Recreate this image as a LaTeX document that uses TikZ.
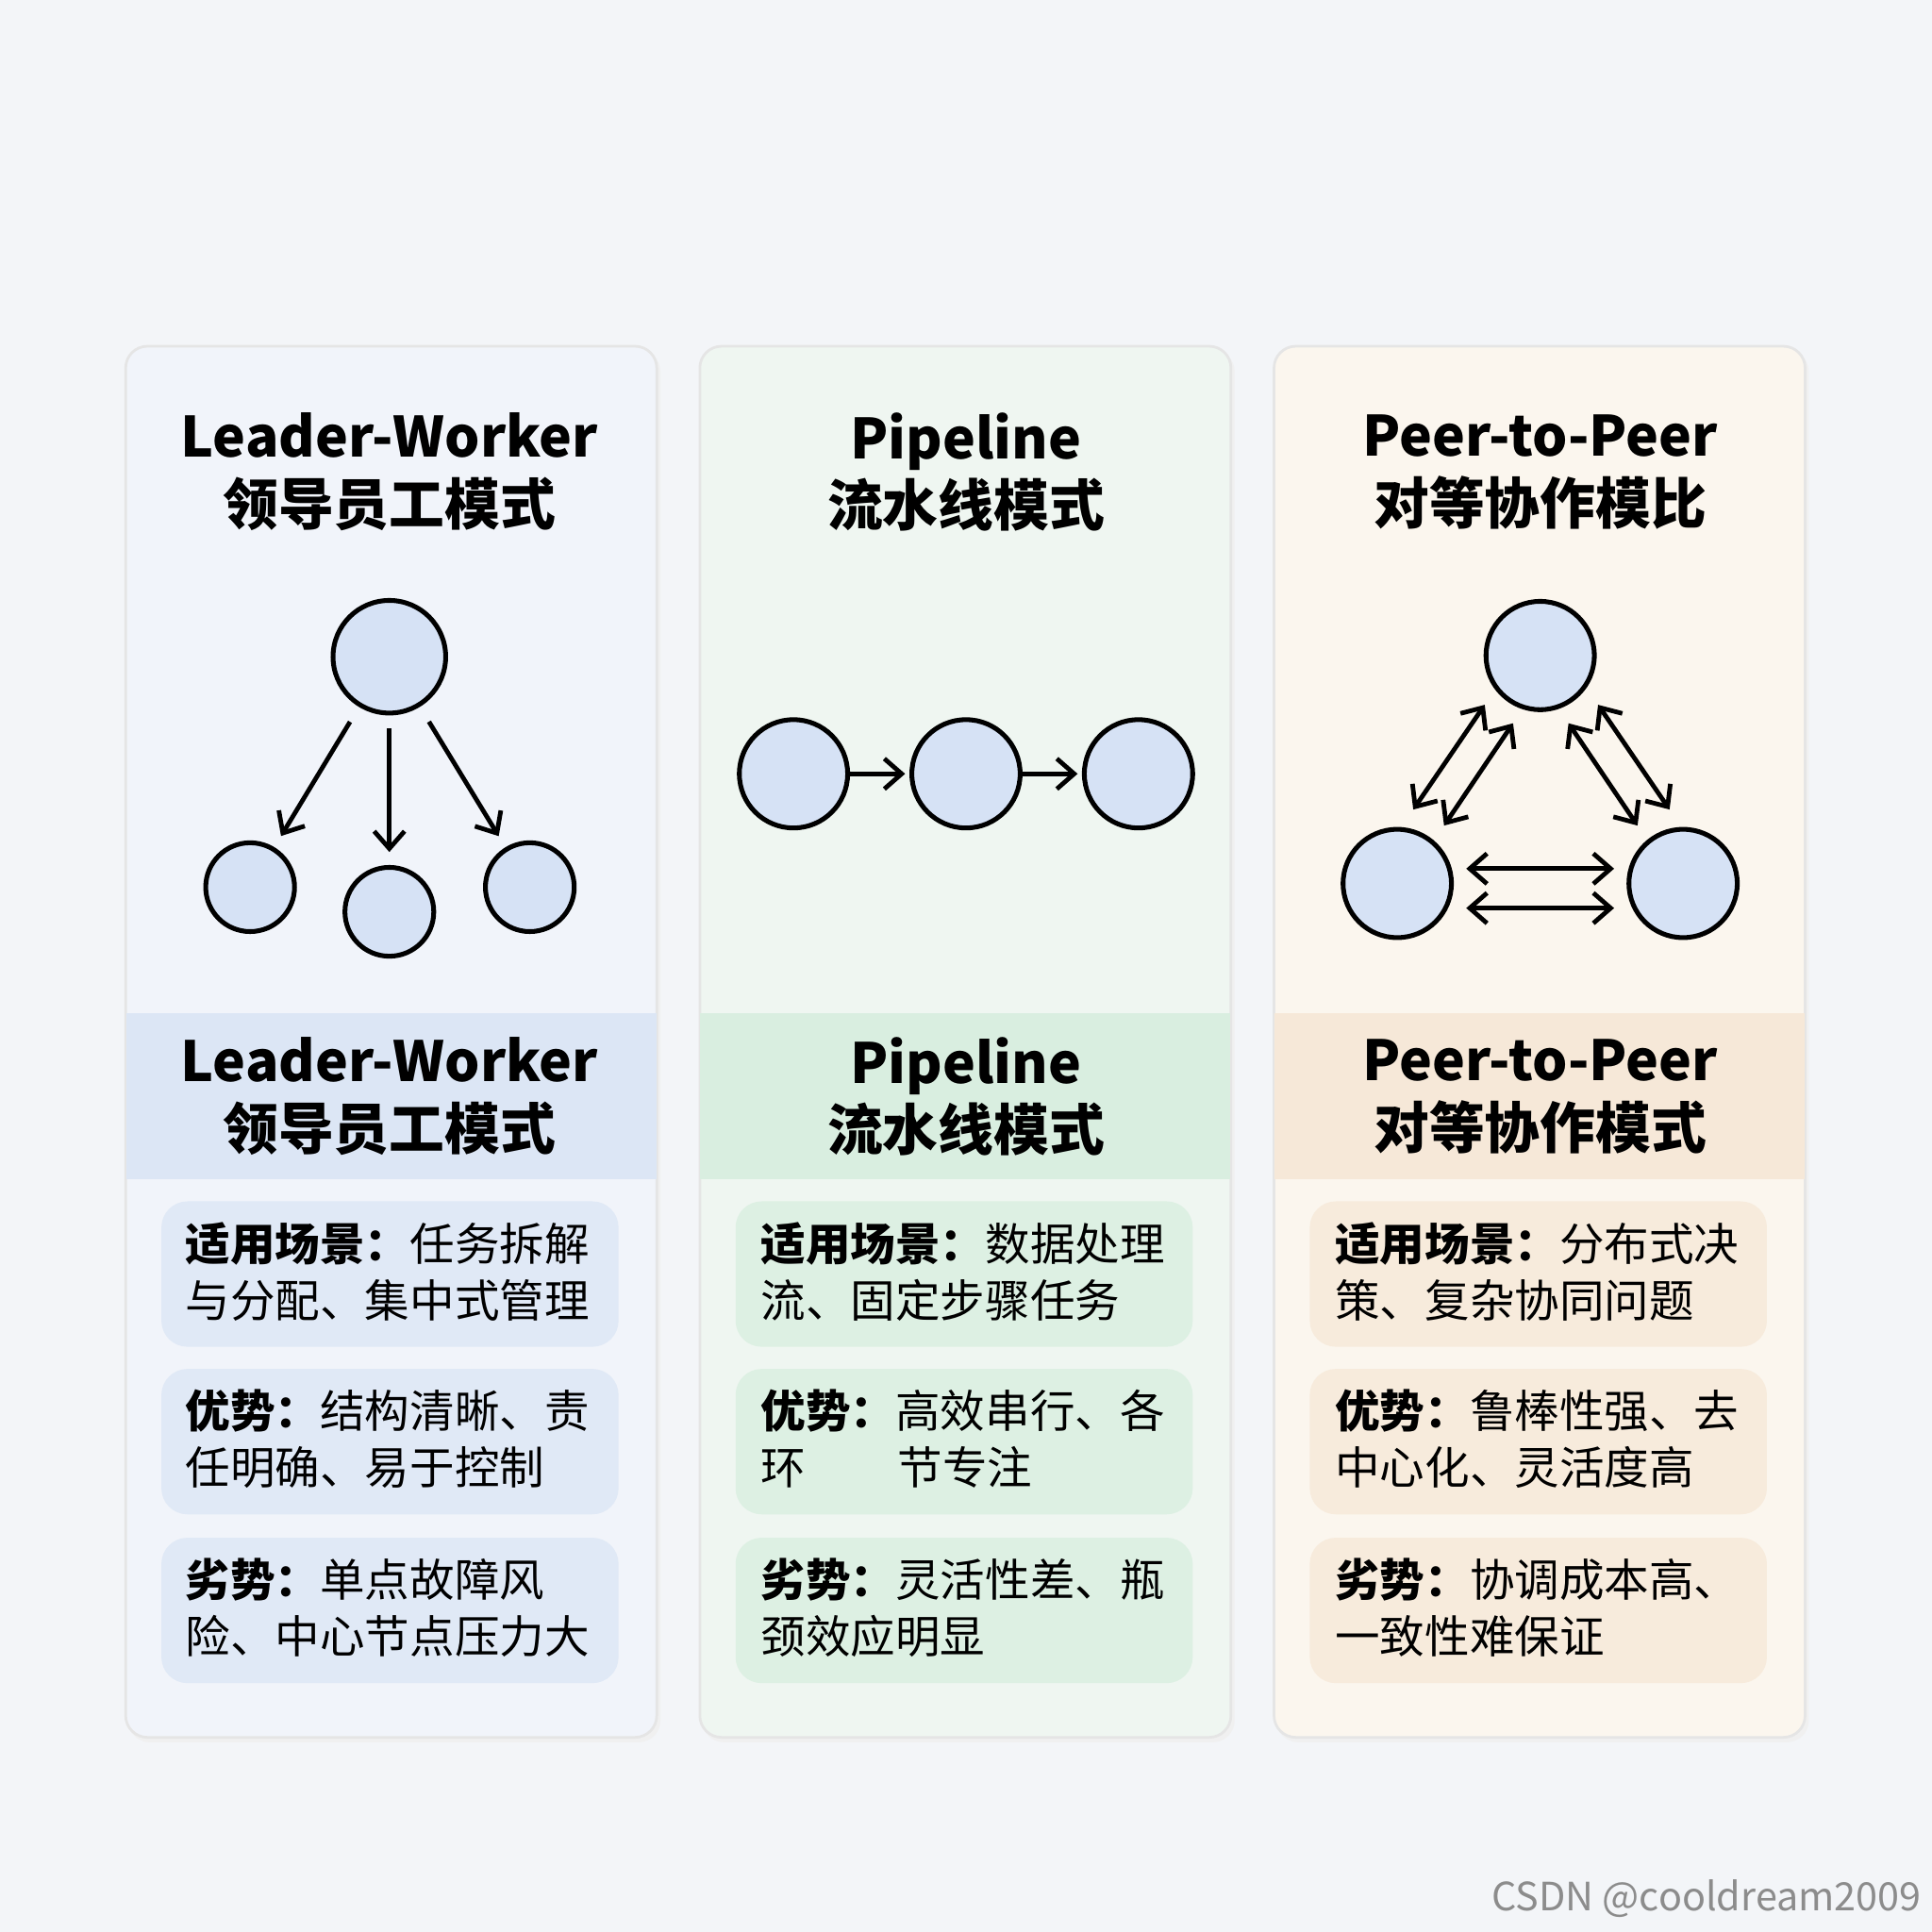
\documentclass[tikz,border=0pt]{standalone}
\usepackage{fontspec}
\setmainfont{Noto Sans CJK SC}
\usetikzlibrary{arrows.meta}
\definecolor{bg}{HTML}{F3F5F8}
\definecolor{pA}{HTML}{F1F4FA}\definecolor{hA}{HTML}{DCE6F5}
\definecolor{pB}{HTML}{EFF6F1}\definecolor{hB}{HTML}{D9EEE0}
\definecolor{pC}{HTML}{FBF6EE}\definecolor{hC}{HTML}{F6E8D8}
\definecolor{nd}{HTML}{D6E2F5}
\begin{document}
\begin{tikzpicture}[x=0.01cm,y=-0.01cm,
 panel/.style={draw=black!10,line width=0.6pt,rounded corners=5pt},
 ttl/.style={align=center,font=\bfseries\fontsize{12.8}{15.6}\selectfont,inner sep=0},
 body/.style={align=left,anchor=north west,font=\fontsize{10.35}{13.1}\selectfont,inner sep=0},
 nd/.style={circle,draw=black,fill=nd,line width=1.1pt,inner sep=0},
 ar/.style={line width=1.05pt,-{Straight Barb[length=4pt,width=7pt]}},
 dar/.style={line width=1.05pt,{Straight Barb[length=4pt,width=7pt]}-{Straight Barb[length=4pt,width=7pt]}}]
\fill[bg] (0,0) rectangle (1568,1568);
\useasboundingbox (0,0) rectangle (1568,1568);
% panels
\foreach \x/\p/\h in {102/pA/hA,568/pB/hB,1034/pC/hC}{
 \fill[black!6,rounded corners=5pt] (\x+2,284) rectangle (\x+434,1414);
 \filldraw[panel,fill=\p] (\x,281) rectangle (\x+431,1410);
 \fill[\h] (\x+0.3,822) rectangle (\x+430.7,957);
 \foreach \y in {975,1111,1248}{\fill[\h!80!\p,rounded corners=6pt] (\x+29,\y) rectangle (\x+400,\y+118);}
}
% titles
\node[ttl] (t1) at (316,383) {Leader-Worker\\领导员工模式};
\node[ttl] (t2) at (784,383) {Pipeline\\流水线模式};
\node[ttl] (t3) at (1250,383) {Peer-to-Peer\\对等协作模比};
\node[ttl] (h1) at (316,890) {Leader-Worker\\领导员工模式};
\node[ttl] (h2) at (784,890) {Pipeline\\流水线模式};
\node[ttl] (h3) at (1250,890) {Peer-to-Peer\\对等协作模式};
% body
\node[body] (a1) at (150,991) {\textbf{适用场景：}任务拆解\\与分配、集中式管理};
\node[body] (a2) at (150,1127) {\textbf{优势：}结构清晰、责\\任明确、易于控制};
\node[body] (a3) at (150,1264) {\textbf{劣势：}单点故障风\\险、中心节点压力大};
\node[body] (b1) at (617,991) {\textbf{适用场景：}数据处理\\流、固定步骤任务};
\node[body] (b2) at (617,1127) {\textbf{优势：}高效串行、各\\环\hspace{2.05em}节专注};
\node[body] (b3) at (617,1264) {\textbf{劣势：}灵活性差、瓶\\颈效应明显};
\node[body] (c1) at (1083,991) {\textbf{适用场景：}分布式决\\策、复杂协同问题};
\node[body] (c2) at (1083,1127) {\textbf{优势：}鲁棒性强、去\\中心化、灵活度高};
\node[body] (c3) at (1083,1264) {\textbf{劣势：}协调成本高、\\一致性难保证};
% leader-worker
\node[nd,minimum size=26pt] (L) at (316,533) {};
\node[nd,minimum size=20.5pt] (w1) at (203,720) {};
\node[nd,minimum size=20.5pt] (w2) at (316,740) {};
\node[nd,minimum size=20.5pt] (w3) at (430,720) {};
\draw[ar,shorten <=4pt,shorten >=3pt] (L) -- (w1);
\draw[ar,shorten <=3pt,shorten >=3pt] (L) -- (w2);
\draw[ar,shorten <=4pt,shorten >=3pt] (L) -- (w3);
% pipeline
\node[nd,minimum size=25pt] (p1) at (644,628) {};
\node[nd,minimum size=25pt] (p2) at (784,628) {};
\node[nd,minimum size=25pt] (p3) at (924,628) {};
\draw[ar,shorten >=1pt] (p1) -- (p2);
\draw[ar,shorten >=1pt] (p2) -- (p3);
% p2p
\node[nd,minimum size=25pt] (q1) at (1250,532) {};
\node[nd,minimum size=25pt] (q2) at (1134,717) {};
\node[nd,minimum size=25pt] (q3) at (1366,717) {};
\coordinate (u1) at (1147,657); \coordinate (u2) at (1205,572);
\coordinate (u3) at (1172,670); \coordinate (u4) at (1228,587);
\coordinate (v1) at (1297,572); \coordinate (v2) at (1355,657);
\coordinate (v3) at (1273,587); \coordinate (v4) at (1329,670);
\coordinate (s1) at (1190,705); \coordinate (s2) at (1310,705);
\coordinate (s3) at (1190,737); \coordinate (s4) at (1310,737);
\draw[dar] (u1) -- (u2); \draw[dar] (u3) -- (u4);
\draw[dar] (v1) -- (v2); \draw[dar] (v3) -- (v4);
\draw[dar] (s1) -- (s2); \draw[dar] (s3) -- (s4);
\node[anchor=east,text=black!45,font=\fontsize{9}{11}\selectfont,inner sep=0] (wm) at (1560,1541) {CSDN @cooldream2009};
\end{tikzpicture}
\end{document}
